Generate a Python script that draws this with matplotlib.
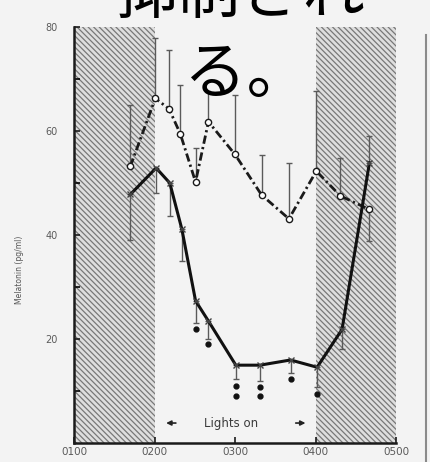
import matplotlib
matplotlib.use('Agg')
import matplotlib.pyplot as plt
from matplotlib.lines import Line2D

# ---- data (hours after midnight, melatonin pg/ml) ----
upper_t = [1.70, 2.01, 2.18, 2.32, 2.51, 2.67, 3.00, 3.33, 3.67, 4.01, 4.31, 4.67]
upper_v = [53.2, 66.3, 64.3, 59.5, 50.2, 61.8, 55.5, 47.7, 43.1, 52.3, 47.5, 44.9]
upper_err_up = [11.9, 11.6, 11.4, 9.4, 6.6, 5.7, 11.5, 7.6, 10.7, 15.4, 7.3, 0.0]
upper_err_dn = [0, 0, 0, 0, 0, 0, 0, 0, 0, 0, 0, 6.1]

lower_t = [1.70, 2.02, 2.19, 2.34, 2.51, 2.67, 3.01, 3.31, 3.69, 4.02, 4.33, 4.67]
lower_v = [47.8, 52.9, 50.0, 41.1, 27.3, 23.4, 14.9, 14.9, 15.9, 14.5, 21.8, 53.9]
lower_err_dn = [8.8, 4.8, 6.3, 6.1, 4.2, 3.5, 2.7, 3.0, 2.5, 3.8, 3.8, 0.0]
lower_err_up = [0, 0, 0, 0, 0, 0, 0, 0, 0, 0, 0, 5.2]

sig_t = [2.51, 2.67, 3.01, 3.01, 3.31, 3.31, 3.69, 4.02]
sig_v = [21.8, 18.9, 10.9, 9.0, 10.6, 8.9, 12.2, 9.3]

dark_spans = [(1.0, 2.0), (4.0, 5.0)]
x_ticks = [1, 2, 3, 4, 5]
x_labels = ['0100', '0200', '0300', '0400', '0500']
y_ticks = [20, 40, 60, 80]
y_label = 'Melatonin (pg/ml)'
lights_text = 'Lights on'
title_line1 = '抑制され'
title_line2 = 'る。'

W, H = 430, 462
plt.rcParams['hatch.linewidth'] = 0.9
plt.rcParams['hatch.color'] = '#787878'

fig = plt.figure(figsize=(W / 100, H / 100), dpi=100, facecolor='#f3f3f3')
ax = fig.add_axes([74 / W, 1 - 442.5 / H, (396 - 74) / W, (442.5 - 27.3) / H])
ax.set_facecolor('none')
ax.set_xlim(1, 5)
ax.set_ylim(0, 80)

for a, b in dark_spans:
    ax.axvspan(a, b, ymin=0, ymax=1, facecolor='#dedede', edgecolor='#787878',
               hatch='\\\\\\\\\\\\', linewidth=0, zorder=0)

# error bars
ax.errorbar(upper_t, upper_v, yerr=[upper_err_dn, upper_err_up], fmt='none',
            ecolor='#5a5a5a', elinewidth=1.0, capsize=2.5, capthick=1.0, zorder=2)
ax.errorbar(lower_t, lower_v, yerr=[lower_err_dn, lower_err_up], fmt='none',
            ecolor='#5a5a5a', elinewidth=1.0, capsize=2.5, capthick=1.0, zorder=2)

# series
ax.plot(upper_t, upper_v, color='#1a1a1a', lw=2.0, dashes=(3, 1.2, 0.8, 1.2),
        marker='o', ms=4.5, mfc='white', mec='#1a1a1a', mew=1.0, zorder=3)
ax.plot(lower_t, lower_v, color='#111111', lw=2.2, marker='x', ms=4.5,
        mec='#444444', mew=1.0, zorder=3)
ax.plot(sig_t, sig_v, ls='none', marker='o', ms=3.5, color='#111111', zorder=3)

# Lights on annotation
ax.text(2.95, 3.75, lights_text, ha='center', va='center', fontsize=8.5,
        color='#3a3a3a')
ax.annotate('', xy=(2.11, 3.75), xytext=(2.30, 3.75),
            arrowprops=dict(arrowstyle='-|>', color='#222222', lw=1.2,
                            mutation_scale=7))
ax.annotate('', xy=(3.91, 3.75), xytext=(3.72, 3.75),
            arrowprops=dict(arrowstyle='-|>', color='#222222', lw=1.2,
                            mutation_scale=7))

# axes styling
for s in ['top', 'right']:
    ax.spines[s].set_visible(False)
for s in ['left', 'bottom']:
    ax.spines[s].set_linewidth(1.8)
    ax.spines[s].set_color('#1a1a1a')
ax.set_xticks(x_ticks)
ax.set_xticklabels(x_labels)
ax.set_yticks(y_ticks)
ax.set_yticklabels([str(v) for v in y_ticks])
ax.set_yticks([10, 30, 50, 70], minor=True)
ax.tick_params(axis='both', direction='in', length=4, width=1.2, colors='#1a1a1a',
               labelcolor='#5a5a5a', labelsize=7)
ax.tick_params(axis='y', which='minor', direction='in', length=4, width=1.2)
ax.tick_params(axis='y', pad=12)
ax.tick_params(axis='x', pad=3, labelsize=7.5)

fig.text(19 / W, 1 - 270 / H, y_label, rotation=90, ha='center', va='center',
         fontsize=5.5, color='#555555')

# scan edge line on the right
fig.add_artist(Line2D([426 / W, 426 / W], [0, 1 - 35 / H], color='#8a8a8a', lw=1.5))

# overlaid Japanese text (top line is cropped by the image edge, as in the reference)
fig.text(115 / W, 1 - 13 / H, title_line1, ha='left', va='baseline', fontsize=45,
         family=['Noto Sans CJK JP', 'DejaVu Sans'], color='black')
fig.text(184 / W, 1 - 93 / H, title_line2, ha='left', va='baseline', fontsize=45,
         family=['Noto Sans CJK JP', 'DejaVu Sans'], color='black')

fig.savefig('out.png', dpi=100, facecolor=fig.get_facecolor())
